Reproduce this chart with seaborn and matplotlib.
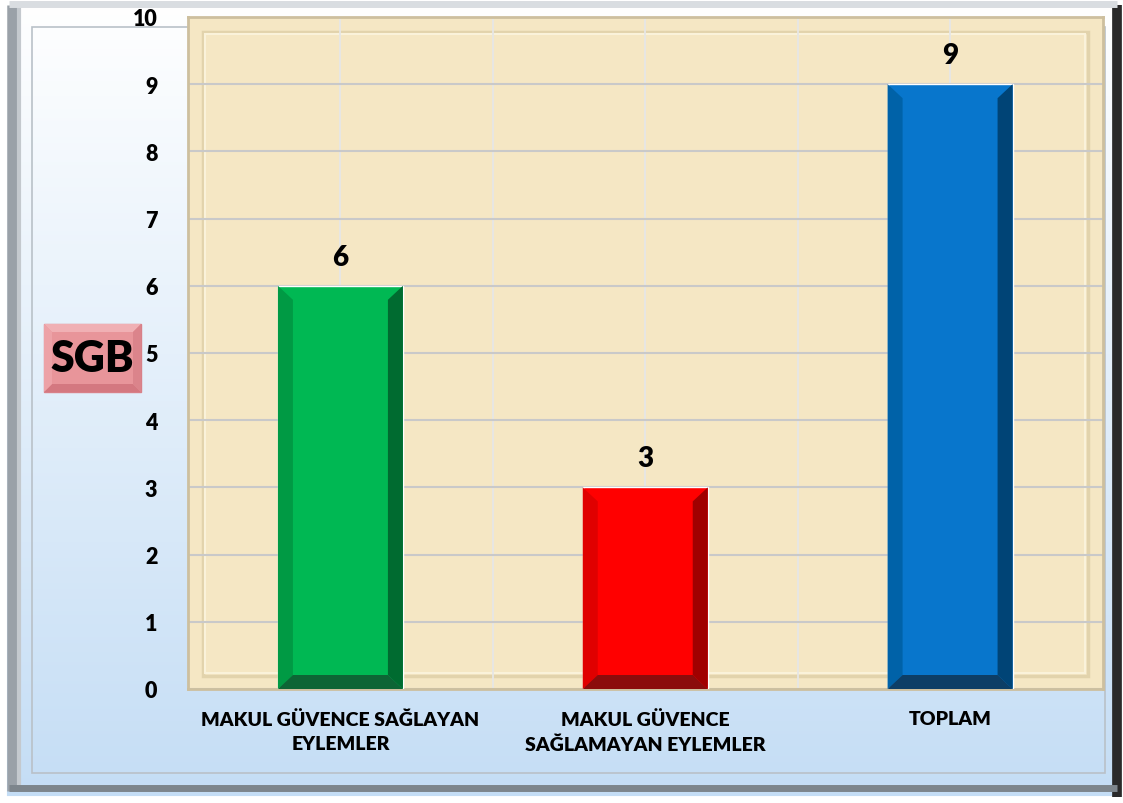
import numpy as np
import pandas as pd
import matplotlib
matplotlib.use("Agg")
import matplotlib.pyplot as plt
from matplotlib.patches import Polygon, Rectangle
import seaborn as sns

categories = ["MAKUL GÜVENCE SAĞLAYAN\nEYLEMLER", "MAKUL GÜVENCE\nSAĞLAMAYAN EYLEMLER", "TOPLAM"]
values = [6, 3, 9]
face_colors = ["#00B853", "#FF0000", "#0876CC"]
left_colors = ["#009A44", "#E00000", "#0062A8"]
right_colors = ["#006B30", "#A00000", "#004476"]
bottom_colors = ["#0D6535", "#8B0C0C", "#0D3E66"]
y_ticks = list(range(0, 11))
badge_text = "SGB"

sns.set_theme(style="white")
plt.rcParams['font.family'] = ['Lato', 'DejaVu Sans']
FW = "heavy"

fig = plt.figure(figsize=(11.23, 8.04), dpi=100)

# background gradient
bg = fig.add_axes([0, 0, 1, 1], zorder=-5)
grad = np.linspace(0, 1, 256).reshape(-1, 1)
top_c = np.array([1.0, 1.0, 1.0])
bot_c = np.array([0xC4, 0xDD, 0xF5]) / 255
img = top_c[None, None, :] * (1 - grad[:, :, None]) + bot_c[None, None, :] * grad[:, :, None]
bg.imshow(img, aspect="auto", extent=[0, 1, 0, 1], origin="upper")
bg.set_xlim(0, 1); bg.set_ylim(0, 1); bg.axis("off")
W, H = 1123, 804
def fx(px): return px / W
def fy(py): return 1 - py / H
# outer frame
bg.add_patch(Rectangle((0, 0), 1, 1, fill=False, ec="#ffffff", lw=10))
bg.plot([fx(13), fx(13)], [fy(6), fy(792)], color="#9aa1a8", lw=9, solid_capstyle="butt")
bg.plot([fx(19), fx(19)], [fy(8), fy(790)], color="#c4c9ce", lw=3, solid_capstyle="butt")
bg.plot([fx(1117), fx(1117)], [fy(6), fy(798)], color="#2a2a2a", lw=7, solid_capstyle="butt")
bg.plot([fx(9), fx(1117)], [fy(789), fy(789)], color="#7d858c", lw=5, solid_capstyle="butt")
bg.plot([fx(9), fx(1117)], [fy(5), fy(5)], color="#d9dde1", lw=5, solid_capstyle="butt")
bg.add_patch(Rectangle((fx(32), fy(774)), fx(1073), fy(28) - fy(774), fill=False, ec="#b9c1c8", lw=1.2))

# main axes
ax = fig.add_axes([188 / W, 114 / H, 914.5 / W, 672 / H])
df = pd.DataFrame({"cat": categories, "val": values})
sns.barplot(data=df, x="cat", y="val", hue="cat", palette=face_colors, width=0.41,
            legend=False, ax=ax, zorder=3, saturation=1)
ax.set_facecolor("#F5E7C4")
ax.set_xlim(-0.5, 2.5)
ax.set_ylim(0, 10)
ax.set_yticks(y_ticks)
ax.set_yticklabels([str(t) for t in y_ticks], fontsize=15.5, fontweight=FW)
ax.set_xticks(range(len(categories)))
ax.set_xticklabels(categories, fontsize=14, fontweight=FW, linespacing=1.55)
ax.set_xticks([0.5, 1.5], minor=True)
ax.tick_params(axis="y", length=0, pad=22, labelcolor="black")
ax.tick_params(axis="x", which="both", length=0, pad=15, labelcolor="black")
ax.set_xlabel(""); ax.set_ylabel("")
ax.grid(True, axis="y", color="#C9C9C9", lw=1.5, zorder=1)
ax.grid(True, axis="x", which="both", color="#E6E6E6", lw=1.3, zorder=1)
for s in ax.spines.values():
    s.set_color("#CDBF9E"); s.set_linewidth(2)

# inner frame of plot area
ax.add_patch(Rectangle((0.016, 0.02), 0.968, 0.958, transform=ax.transAxes, fill=False,
                       ec="#E2D3AC", lw=2.5, zorder=0.5))
ax.add_patch(Rectangle((0.019, 0.024), 0.962, 0.951, transform=ax.transAxes, fill=False,
                       ec="#FAF2DA", lw=1.5, zorder=0.5))

# bevels
dy = 14 / 67.2
for i, p in enumerate(ax.patches[:len(values)]):
    x0 = p.get_x(); w = p.get_width(); h = p.get_height(); x1 = x0 + w
    dx = w * 0.12
    ax.add_patch(Polygon([(x0, 0), (x0 + dx, dy), (x0 + dx, h - dy), (x0, h)],
                         closed=True, fc=left_colors[i], ec="none", zorder=4))
    ax.add_patch(Polygon([(x1, 0), (x1 - dx, dy), (x1 - dx, h - dy), (x1, h)],
                         closed=True, fc=right_colors[i], ec="none", zorder=4))
    ax.add_patch(Polygon([(x0, 0), (x1, 0), (x1 - dx, dy), (x0 + dx, dy)],
                         closed=True, fc=bottom_colors[i], ec="none", zorder=4))
    ax.annotate(str(values[i]), (x0 + w / 2, h), xytext=(0, 21), textcoords="offset points",
                ha="center", va="center", fontsize=20, fontweight=FW, color="black", zorder=5)

# SGB badge
bx0, bx1, by0, by1 = fx(44), fx(141), fy(393), fy(325)
bg.add_patch(Rectangle((bx0, by0), bx1 - bx0, by1 - by0, fc="#E8959A", ec="#D88088", lw=1, zorder=2))
ix = 8 / W; iy = 8 / H
bg.add_patch(Polygon([(bx0, by1), (bx1, by1), (bx1 - ix, by1 - iy), (bx0 + ix, by1 - iy)], fc="#F0B0B4", ec="none", zorder=3))
bg.add_patch(Polygon([(bx0, by0), (bx1, by0), (bx1 - ix, by0 + iy), (bx0 + ix, by0 + iy)], fc="#D47880", ec="none", zorder=3))
bg.add_patch(Polygon([(bx1, by0), (bx1, by1), (bx1 - ix, by1 - iy), (bx1 - ix, by0 + iy)], fc="#DB848B", ec="none", zorder=3))
bg.add_patch(Polygon([(bx0, by0), (bx0, by1), (bx0 + ix, by1 - iy), (bx0 + ix, by0 + iy)], fc="#EDA2A7", ec="none", zorder=3))
bg.text((bx0 + bx1) / 2, (by0 + by1) / 2, badge_text, ha="center", va="center",
        fontsize=31, fontweight=FW, color="black", zorder=4)

fig.savefig("out.png", dpi=100)
